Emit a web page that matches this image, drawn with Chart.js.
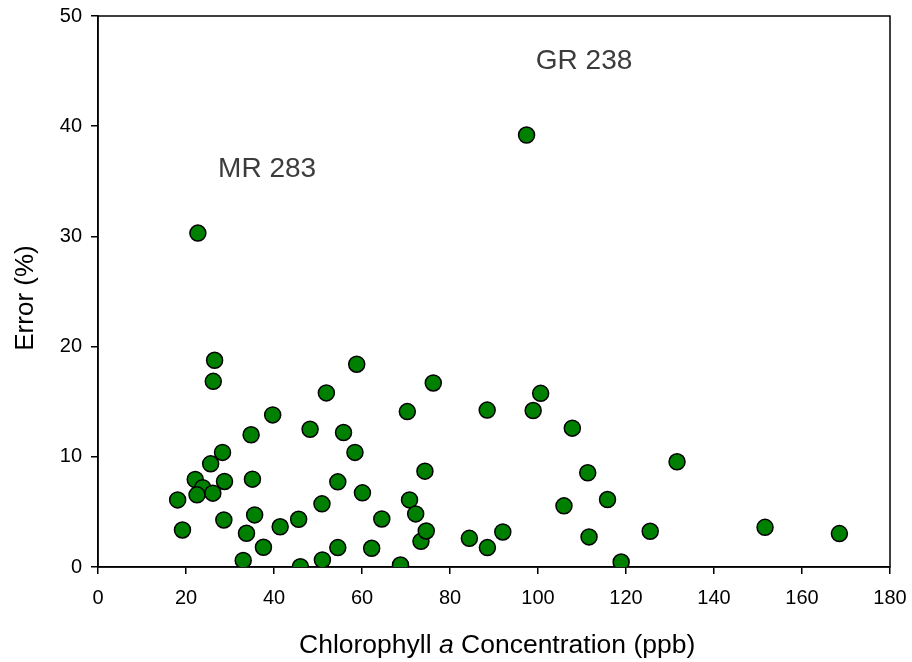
<!DOCTYPE html>
<html>
<head>
<meta charset="utf-8">
<script src="https://cdn.jsdelivr.net/npm/chart.js@4.4.1/dist/chart.umd.min.js"></script>
<style>
  html, body { margin: 0; padding: 0; background: #fff; }
  #wrap { width: 912px; height: 662px; }
</style>
</head>
<body>
<div id="wrap"><canvas id="c" width="912" height="662"></canvas></div>
<script>
// Chlorophyll a concentration (ppb) for each sample
const chlorophyll = [
  18.1, 19.2, 22.1, 23.8, 22.5, 22.7, 25.6, 26.1, 26.2, 26.5,
  28.3, 28.75, 28.6, 33.0, 33.75, 34.8, 35.1, 35.6, 37.6, 39.7,
  41.4, 45.6, 46.0, 48.2, 50.9, 51.0, 51.9, 54.5, 54.5, 55.8,
  58.4, 58.8, 60.1, 62.2, 64.5, 68.75, 70.3, 70.8, 72.2, 73.4,
  74.3, 74.6, 76.2, 84.4, 88.45, 88.5, 92.0, 97.4, 98.9, 100.6,
  105.9, 107.8, 111.3, 111.6, 115.8, 118.9, 125.5, 131.6, 151.6, 168.5
];
// Error (%) for the same samples
const errorPct = [
  6.09, 3.36, 7.94, 7.2, 6.55, 30.3, 9.36, 6.7, 16.85, 18.76,
  10.4, 7.76, 4.27, 0.6, 3.06, 12.0, 7.97, 4.73, 1.79, 13.8,
  3.65, 4.33, 0.03, 12.5, 5.73, 0.64, 15.8, 7.73, 1.76, 12.2,
  10.4, 18.4, 6.73, 1.7, 4.36, 0.18, 14.1, 6.09, 4.82, 2.33,
  8.7, 3.27, 16.7, 2.6, 14.24, 1.76, 3.18, 39.2, 14.2, 15.76,
  5.55, 12.6, 8.55, 2.73, 6.12, 0.45, 3.24, 9.55, 3.6, 3.03
];
// Labelled outliers: text, and data position of the label's left end on its baseline
const noteText = ["MR 283", "GR 238"];
const noteX = [27.3, 99.5];
const noteY = [35.36, 45.2];

const points = chlorophyll.map((x, i) => ({ x: x, y: errorPct[i] }));
const FONT = "'Liberation Sans', Arial, sans-serif";

// Frame around the plotting area (top and right edges included)
const framePlugin = {
  id: 'frame',
  beforeDatasetsDraw(chart) {
    const { ctx, chartArea: a } = chart;
    ctx.save();
    ctx.strokeStyle = '#000';
    ctx.lineWidth = 1.5;
    ctx.strokeRect(a.left, a.top, a.right - a.left, a.bottom - a.top);
    ctx.restore();
  }
};

// Axis titles (x title has an italic "a") and the outlier labels
const textPlugin = {
  id: 'texts',
  afterDraw(chart) {
    const { ctx, scales } = chart;
    ctx.save();
    ctx.fillStyle = '#000';
    ctx.textBaseline = 'alphabetic';
    ctx.textAlign = 'left';

    // x-axis title
    const parts = [
      { t: 'Chlorophyll ', f: '26.5px ' + FONT },
      { t: 'a', f: 'italic 26.5px ' + FONT },
      { t: ' Concentration (ppb)', f: '26.5px ' + FONT }
    ];
    let x = 299;
    parts.forEach(p => { ctx.font = p.f; ctx.fillText(p.t, x, 653); x += ctx.measureText(p.t).width; });

    // y-axis title
    ctx.save();
    ctx.translate(33, 298);
    ctx.rotate(-Math.PI / 2);
    ctx.textAlign = 'center';
    ctx.font = '26px ' + FONT;
    ctx.fillText('Error (%)', 0, 0);
    ctx.restore();

    // outlier labels
    ctx.fillStyle = '#3c3c3c';
    ctx.font = '28px ' + FONT;
    ctx.textAlign = 'left';
    noteText.forEach((t, i) => {
      ctx.fillText(t, scales.x.getPixelForValue(noteX[i]), scales.y.getPixelForValue(noteY[i]));
    });
    ctx.restore();
  }
};

new Chart(document.getElementById('c'), {
  type: 'scatter',
  data: {
    datasets: [{
      data: points,
      pointRadius: 8,
      pointHoverRadius: 8,
      pointBackgroundColor: '#008000',
      pointBorderColor: '#000',
      pointBorderWidth: 1.5
    }]
  },
  options: {
    responsive: false,
    animation: false,
    events: [],
    layout: { padding: { left: 0, right: 22, top: 16, bottom: 0 } },
    plugins: { legend: { display: false }, tooltip: { enabled: false } },
    scales: {
      x: {
        type: 'linear',
        min: 0, max: 180,
        afterFit(s) { s.height = 95; s.paddingLeft = 0; s.paddingRight = 0; },
        ticks: { stepSize: 20, color: '#000', padding: 12, font: { family: FONT, size: 20 } },
        grid: { drawOnChartArea: false, drawTicks: true, tickLength: 7, color: '#000', lineWidth: 1.5 },
        border: { display: true, color: '#000', width: 1.5 }
      },
      y: {
        type: 'linear',
        min: 0, max: 50,
        afterFit(s) { s.width = 98; s.paddingTop = 0; s.paddingBottom = 0; },
        ticks: { stepSize: 10, color: '#000', padding: 9, font: { family: FONT, size: 20 } },
        grid: { drawOnChartArea: false, drawTicks: true, tickLength: 7, color: '#000', lineWidth: 1.5 },
        border: { display: true, color: '#000', width: 1.5 }
      }
    }
  },
  plugins: [framePlugin, textPlugin]
});
</script>
</body>
</html>
